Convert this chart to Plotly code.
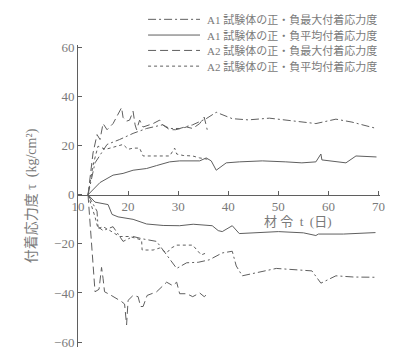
import plotly.graph_objects as go

# Age t (days) and bond stress tau (kg/cm2); positive and negative branches per series
a1_max_pos_t = [12, 13.4, 15.8, 18.3, 21, 23.7, 26.9, 28.3, 30.3, 32.9, 35.6, 37.6, 40.8, 44, 48.2, 51.5, 57.5, 61.5, 64.7, 69.6]
a1_max_pos = [0, 13, 20.5, 22.5, 25, 27, 28.5, 27, 27, 28.5, 31, 33.6, 31, 30.5, 31.2, 30.4, 29, 30.8, 29.6, 27]
a1_max_neg_t = [12, 13.8, 14, 15, 17, 19, 21, 23, 25.7, 27.7, 29.7, 31.7, 34, 36.2, 38.8, 40.8, 41.3, 41.6, 42.8, 45, 49.6, 56.7, 58.5, 61.5, 65, 69.4]
a1_max_neg = [0, -6.7, -13, -14.6, -13, -19, -17, -18, -19, -24.5, -30, -27.7, -27.5, -26.5, -23.7, -23, -27, -29, -33, -32, -30, -31, -36, -33, -33.5, -33.6]

a1_avg_pos_t = [12, 14.4, 17, 19, 21, 23.7, 25.7, 28.3, 30.3, 34.3, 35.6, 36.6, 37.6, 39.6, 42.2, 46.8, 51.5, 54.7, 57.5, 58.5, 58.7, 63.5, 65.5, 69.6]
a1_avg_pos = [0, 5, 8, 8.7, 10, 10.7, 11.9, 13.4, 13.8, 13.8, 15, 13.8, 10, 13, 13.4, 13.8, 13.4, 13, 13.4, 16.6, 14.2, 13, 15.8, 15.4]
a1_avg_neg_t = [12, 13.4, 16, 16.8, 18, 21, 23.7, 27, 30.3, 33, 36.8, 38, 38.8, 40.8, 42.2, 46, 50, 55, 57.5, 58, 63, 69.4]
a1_avg_neg = [0, -3, -4, -8, -9, -10, -11.9, -12.5, -12.6, -12, -12.6, -14.6, -15, -12.6, -15.8, -15.5, -15, -15.5, -16.6, -16, -16, -15.4]

a2_max_pos_t = [12, 13, 13.8, 14.4, 15, 15.8, 17, 18.7, 19, 19.7, 20.3, 21, 21.4, 21.7, 22.3, 23, 25, 26.3, 26.9, 28.3, 29.5, 31.7, 32.9, 34.3, 35.2, 35.8]
a2_max_pos = [0, 17, 24.5, 22.5, 29, 26.5, 29, 35.5, 31.5, 30, 30.4, 34, 28.5, 26.5, 30.4, 27.6, 29, 30.4, 28.5, 26.5, 26.5, 27.6, 27, 29, 31.6, 26.5]
a2_max_neg_t = [12, 13.4, 14.2, 14.7, 15, 15.3, 16.4, 17.5, 18.7, 19.3, 19.7, 20, 21, 22, 22.5, 23, 23.8, 25.7, 27.7, 28.9, 29.7, 30.3, 31.7, 32.9, 34.3, 35.2, 35.8]
a2_max_neg = [0, -39.5, -38.5, -29.6, -34, -39.5, -40.7, -42, -43.5, -44.5, -53, -43, -41, -41.5, -45.5, -45.5, -41, -39.5, -35.6, -37, -35.6, -40.3, -40.3, -41.5, -40, -41.5, -40.5]

a2_avg_pos_t = [12, 13, 14, 15.5, 17.8, 19, 20, 21, 22.3, 23, 25, 28.3, 29.3, 29.7, 31, 32.9, 34.3, 35.8]
a2_avg_pos = [0, 12, 19.8, 18.5, 19.8, 20.5, 18.5, 19, 19, 15.8, 15.8, 15.8, 19, 16.6, 16, 15.8, 15, 14.5]
a2_avg_neg_t = [12, 13, 13.4, 14, 15, 16.4, 18.3, 20.3, 22.7, 22.8, 25, 26.3, 27.7, 28.6, 29.7, 32.9, 33.7, 34.6, 35.6]
a2_avg_neg = [0, -6, -9, -13.8, -13, -14.6, -17, -17, -18.4, -22.5, -22.5, -21.7, -23.7, -21.7, -20.5, -20.5, -22.5, -24.5, -23.7]

series_names = [
    "A1 試験体の正・負最大付着応力度",
    "A1 試験体の正・負平均付着応力度",
    "A2 試験体の正・負最大付着応力度",
    "A2 試験体の正・負平均付着応力度",
]
x_ticks = [10, 20, 30, 40, 50, 60, 70]
y_ticks = [-60, -40, -20, 0, 20, 40, 60]

LINE = "#5f5f5f"
TEXT = "#7a7a7a"
FONT = "Liberation Serif, Noto Sans CJK JP, serif"

DASH_DOT = "8px,3px,2px,3px"
SOLID = "solid"
LONG_DASH = "8px,4px"
SHORT_DASH = "3px,3px"

Y_RANGE = [-62, 61]

series = [
    (series_names[0], a1_max_pos_t, a1_max_pos, a1_max_neg_t, a1_max_neg, DASH_DOT),
    (series_names[1], a1_avg_pos_t, a1_avg_pos, a1_avg_neg_t, a1_avg_neg, SOLID),
    (series_names[2], a2_max_pos_t, a2_max_pos, a2_max_neg_t, a2_max_neg, LONG_DASH),
    (series_names[3], a2_avg_pos_t, a2_avg_pos, a2_avg_neg_t, a2_avg_neg, SHORT_DASH),
]

fig = go.Figure()
for name, tp, vp, tn, vn, dash in series:
    fig.add_trace(go.Scatter(
        x=tp + [None] + tn,
        y=vp + [None] + vn,
        mode="lines",
        name=name,
        line=dict(color=LINE, width=1, dash=dash),
        connectgaps=False,
        showlegend=False,
    ))

# Key: a short line sample and its caption per series, stacked above the plot
key_rows_y = [1.085, 1.033, 0.982, 0.93]
for (name, *_rest, dash), ky in zip(series, key_rows_y):
    fig.add_shape(
        type="line", xref="paper", yref="paper",
        x0=0.232, x1=0.404, y0=ky, y1=ky,
        line=dict(color=LINE, width=1, dash=dash),
    )
    fig.add_annotation(
        x=0.42, y=ky, xref="paper", yref="paper",
        text=name, showarrow=False, xanchor="left", yanchor="middle",
        font=dict(size=11, color=TEXT),
    )

# the horizontal axis sits on tau = 0
zero_pos = (0 - Y_RANGE[0]) / (Y_RANGE[1] - Y_RANGE[0])

fig.update_layout(
    width=398, height=354,
    margin=dict(l=78, r=18, t=45, b=4),
    paper_bgcolor="white", plot_bgcolor="white",
    font=dict(family=FONT, color=TEXT, size=12),
    showlegend=False,
    xaxis=dict(
        range=[10, 70.3],
        tickvals=x_ticks,
        ticks="inside", ticklen=4, tickcolor=LINE,
        showline=True, linecolor=LINE, linewidth=1,
        showgrid=False, zeroline=False,
        anchor="free", position=zero_pos,
        tickfont=dict(size=13, color=TEXT),
    ),
    yaxis=dict(
        range=Y_RANGE,
        tickvals=y_ticks,
        ticks="inside", ticklen=4, tickcolor=LINE,
        showline=True, linecolor=LINE, linewidth=1,
        showgrid=False, zeroline=False,
        tickfont=dict(size=13, color=TEXT),
        title=dict(text="付着応力度 τ  (kg/cm²)", font=dict(size=14, color=TEXT), standoff=14),
    ),
)

# Axis title for age, set to the right below the zero line
fig.add_annotation(
    x=54, y=-11, xref="x", yref="y",
    text="材 令  t  (日)", showarrow=False,
    yanchor="middle", font=dict(size=13, color=TEXT),
)

fig.write_html("out.html")
